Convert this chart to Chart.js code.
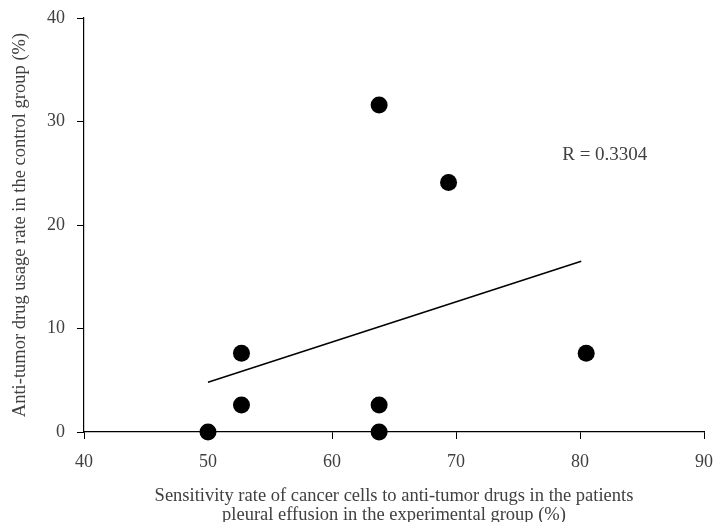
<!DOCTYPE html>
<html>
<head>
<meta charset="utf-8">
<script src="https://cdn.jsdelivr.net/npm/chart.js@4"></script>
<style>
  html, body { margin: 0; padding: 0; background: #fff; }
  #wrap { width: 715px; height: 522px; }
</style>
</head>
<body>
<div id="wrap"><canvas id="chart" width="715" height="522"></canvas></div>
<script>
"use strict";

// Sensitivity rate (x) vs anti-tumor drug usage rate (y), both in %
const sensitivityX = [50, 52.7, 52.7, 63.8, 63.8, 63.8, 69.4, 80.5];
const usageY = [0, 7.6, 2.6, 31.6, 2.6, 0, 24.1, 7.6];

// Linear trend line end points
const trendX = [50, 80.1];
const trendY = [4.8, 16.5];

// Correlation label and where it sits (data coordinates)
const rLabel = "R = 0.3304";
const rLabelAt = { x: 82, y: 26.8 };

const xTitle = [
  "Sensitivity rate of cancer cells to anti-tumor drugs in the patients",
  "pleural effusion in the experimental group (%)",
];
const yTitle = "Anti-tumor drug usage rate in the control group (%)";

const TEXT = "#404040";
const FONT = "'Liberation Serif', 'Times New Roman', serif";

// Draw the R label inside the plot
const rLabelPlugin = {
  id: "rLabel",
  afterDatasetsDraw(chart) {
    const { ctx, scales } = chart;
    ctx.save();
    ctx.font = `19px ${FONT}`;
    ctx.fillStyle = TEXT;
    ctx.textAlign = "center";
    ctx.textBaseline = "middle";
    ctx.fillText(rLabel, scales.x.getPixelForValue(rLabelAt.x), scales.y.getPixelForValue(rLabelAt.y));
    ctx.restore();
  },
};

const ctx = document.getElementById("chart").getContext("2d");

new Chart(ctx, {
  type: "scatter",
  data: {
    datasets: [
      {
        label: "samples",
        data: sensitivityX.map((x, i) => ({ x, y: usageY[i] })),
        backgroundColor: "#000",
        borderWidth: 0,
        pointRadius: 8.5,
        pointHoverRadius: 8.5,
        clip: false,
      },
      {
        label: "trend",
        data: trendX.map((x, i) => ({ x, y: trendY[i] })),
        showLine: true,
        borderColor: "#000",
        borderWidth: 1.5,
        pointRadius: 0,
        pointHoverRadius: 0,
        fill: false,
      },
    ],
  },
  options: {
    responsive: false,
    animation: false,
    layout: { padding: { top: 18, right: 11, left: 0, bottom: 0 } },
    plugins: {
      legend: { display: false },
      tooltip: { enabled: false },
    },
    scales: {
      x: {
        type: "linear",
        min: 40,
        max: 90,
        afterFit: (scale) => {
          scale.height = 90;
          scale.paddingLeft = 0;
          scale.paddingRight = 0;
        },
        ticks: {
          stepSize: 10,
          padding: 12.5,
          color: TEXT,
          font: { family: FONT, size: 18 },
        },
        grid: {
          drawOnChartArea: false,
          drawTicks: true,
          tickLength: 7,
          color: "#000",
        },
        border: { display: true, color: "#000", width: 1.2 },
        title: {
          display: true,
          text: xTitle,
          color: TEXT,
          font: { family: FONT, size: 18.5, lineHeight: 1.05 },
          padding: { top: 0, bottom: -3 },
        },
      },
      y: {
        type: "linear",
        min: 0,
        max: 40,
        afterFit: (scale) => {
          scale.width = 84;
          scale.paddingTop = 0;
          scale.paddingBottom = 0;
        },
        ticks: {
          stepSize: 10,
          padding: 12,
          color: TEXT,
          font: { family: FONT, size: 18 },
        },
        grid: {
          drawOnChartArea: false,
          drawTicks: true,
          tickLength: 7,
          color: "#000",
        },
        border: { display: true, color: "#000", width: 1.2 },
        title: {
          display: true,
          text: yTitle,
          color: TEXT,
          font: { family: FONT, size: 18.5, lineHeight: 1.22 },
          padding: { top: 8.5, bottom: 0 },
        },
      },
    },
  },
  plugins: [rLabelPlugin],
});
</script>
</body>
</html>
